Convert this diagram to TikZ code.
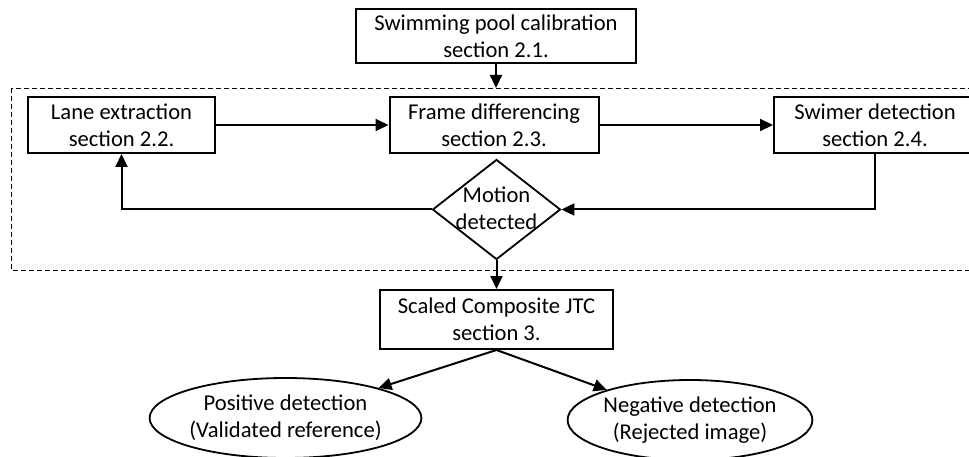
\documentclass[tikz,border=0pt]{standalone}
\usepackage{fontspec}
\setmainfont{Carlito}
\usetikzlibrary{shapes.geometric,arrows.meta}
\begin{document}
\begin{tikzpicture}[x=1pt,y=-1pt,
  every node/.style={font=\fontsize{22.6}{27}\selectfont, align=center, inner sep=0pt},
  procbox/.style={draw, line width=2pt},
  decbox/.style={draw, diamond, line width=1.8pt, minimum width=128pt, minimum height=100pt, aspect=1.28},
  outell/.style={draw, ellipse, line width=1.8pt, minimum width=221pt, minimum height=80pt},
  conn/.style={line width=2pt, -{Triangle[length=13pt,width=12pt]}},
  grp/.style={line width=0.8pt, dash pattern=on 5pt off 3pt}]
\clip (0,0) rectangle (969,457);
% dashed group frame
\draw[grp] (11,88) rectangle (990,270);
\coordinate (grptop) at (496,88);
% nodes
\node[procbox, minimum width=280pt, minimum height=54pt] (calib) at (496,36) {Swimming pool calibration\\section 2.1.};
\node[procbox, minimum width=187pt, minimum height=56pt] (lane) at (121.5,125) {Lane extraction\\section 2.2.};
\node[procbox, minimum width=209pt, minimum height=56pt] (frame) at (494,125) {Frame differencing\\section 2.3.};
\node[procbox, minimum width=202pt, minimum height=56pt] (swim) at (875,125) {Swimer detection\\section 2.4.};
\node[decbox] (motion) at (496.5,209.5) {};
\node at (496.5,208) {Motion\\detected};
\node[procbox, minimum width=233pt, minimum height=59pt] (jtc) at (496.5,319.5) {Scaled Composite JTC\\section 3.};
\node[outell] (pos) at (285.5,418) {Positive detection\\(Validated reference)};
\node[outell] (neg) at (690,420) {Negative detection\\(Rejected image)};
% connectors
\draw[conn] (calib.south) -- (grptop);
\draw[conn] (lane.east) -- (frame.west);
\draw[conn] (frame.east) -- (swim.west);
\draw[conn] (swim.south) |- (motion.east);
\draw[conn] (motion.west) -| (lane.south);
\draw[conn] (motion.south) -- (jtc.north);
\draw[conn] (jtc.south) -- (pos);
\draw[conn] (jtc.south) -- (neg);
\end{tikzpicture}
\end{document}
